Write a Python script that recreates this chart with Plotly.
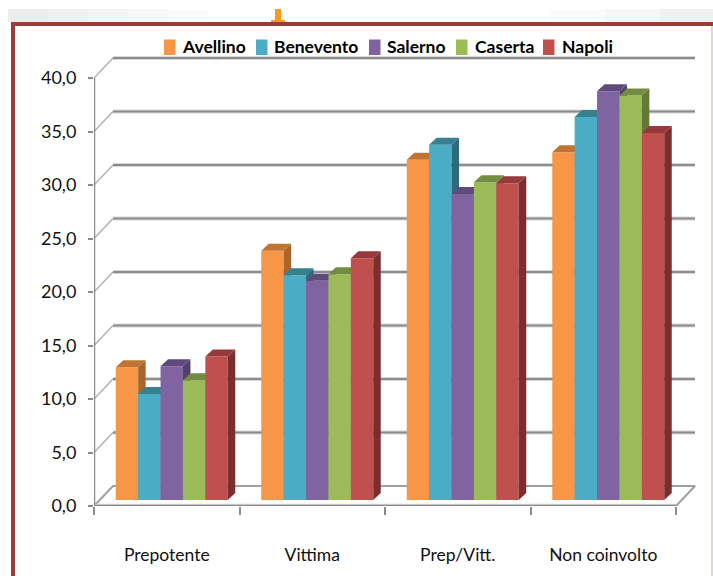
import plotly.graph_objects as go

categories = ["Prepotente", "Vittima", "Prep/Vitt.", "Non coinvolto"]
series_names = ["Avellino", "Benevento", "Salerno", "Caserta", "Napoli"]
avellino = [12.4, 23.3, 31.8, 32.5]
benevento = [9.9, 21.0, 33.2, 35.8]
salerno = [12.5, 20.5, 28.6, 38.2]
caserta = [11.2, 21.1, 29.7, 37.8]
napoli = [13.4, 22.6, 29.6, 34.3]
series_values = [avellino, benevento, salerno, caserta, napoli]
y_ticks = [0, 5, 10, 15, 20, 25, 30, 35, 40]
y_tick_labels = ["0,0", "5,0", "10,0", "15,0", "20,0", "25,0", "30,0", "35,0", "40,0"]

front_colors = ["#F79646", "#4BACC6", "#8064A2", "#9BBB59", "#C0504D"]
top_colors = ["#C07432", "#36808F", "#5F4A7C", "#738C42", "#96393A"]
side_colors = ["#A9652A", "#2E6A7C", "#523F6C", "#637939", "#7A2F2E"]
legend_swatch_px = [164, 256, 369, 456, 543]
legend_text_px = [181, 273, 386, 474, 561]

W, H = 713, 576
L, R, T, B = 94, 700, 40, 506          # plot box in page pixels
PX_X = 145.5                            # pixels per category
PX_Y = 10.7                             # pixels per value unit
x_range = [0, (R - L) / PX_X]
y_range = [0, (B - T) / PX_Y]
wall_dx, wall_dy = 19 / PX_X, 20 / PX_Y  # back-wall offset
wall_right = (695 - L) / PX_X
bar_shift_x, bar_shift_y = 5 / PX_X, 6 / PX_Y
depth_dx, depth_dy = 7.5 / PX_X, 7 / PX_Y
bar_w = 22.4 / PX_X


def px(x):
    return (x - L) / (R - L)


def py(y):
    return (B - y) / (B - T)


FONT = "Lato, sans-serif"
fig = go.Figure()

# wall grid, drawn on the base axes
for v in y_ticks[1:]:
    fig.add_trace(go.Scatter(x=[0, wall_dx], y=[v, v + wall_dy], mode="lines",
                             line=dict(color="#B0B0B0", width=1.5), showlegend=False, hoverinfo="skip", cliponaxis=False))
    fig.add_trace(go.Scatter(x=[wall_dx, wall_right], y=[v + wall_dy, v + wall_dy], mode="lines",
                             line=dict(color="#D8D8D8", width=4), showlegend=False, hoverinfo="skip", cliponaxis=False))
    fig.add_trace(go.Scatter(x=[wall_dx, wall_right], y=[v + wall_dy, v + wall_dy], mode="lines",
                             line=dict(color="#8C8C8C", width=2), showlegend=False, hoverinfo="skip", cliponaxis=False))
# floor
fig.add_trace(go.Scatter(x=[0, wall_dx, wall_right, len(categories)],
                         y=[0, wall_dy, wall_dy, 0], mode="lines",
                         line=dict(color="#A0A0A0", width=2), showlegend=False, hoverinfo="skip", cliponaxis=False))
# front axes
fig.add_trace(go.Scatter(x=[0, len(categories)], y=[0, 0], mode="lines",
                         line=dict(color="#DADADA", width=4.5), showlegend=False, hoverinfo="skip", cliponaxis=False))
fig.add_trace(go.Scatter(x=[0, 0, len(categories)], y=[y_ticks[-1], 0, 0], mode="lines",
                         line=dict(color="#8A8A8A", width=2.5), showlegend=False, hoverinfo="skip", cliponaxis=False))

# each series sits on its own overlaid axes so that later bars hide earlier depth faces
for i, (name, vals) in enumerate(zip(series_names, series_values)):
    n = i + 2
    xa, ya = f"x{n}", f"y{n}"
    xs = [c + 0.5 + bar_shift_x + (i - 2) * bar_w for c in range(len(categories))]
    fig.add_trace(go.Bar(x=xs, y=vals, base=bar_shift_y, width=bar_w, name=name, xaxis=xa, yaxis=ya,
                         marker=dict(color=front_colors[i], line=dict(width=0)), showlegend=False,
                         hovertemplate=name + ": %{y:.1f}<extra></extra>"))
    for xc, v in zip(xs, vals):
        x0, x1 = xc - bar_w / 2, xc + bar_w / 2
        y0, y1 = bar_shift_y, bar_shift_y + v
        fig.add_trace(go.Scatter(x=[x1, x1, x1 + depth_dx, x1 + depth_dx, x1], y=[y0, y1, y1 + depth_dy, y0 + depth_dy, y0],
                                 mode="lines", fill="toself", fillcolor=side_colors[i], line=dict(width=0),
                                 xaxis=xa, yaxis=ya, showlegend=False, hoverinfo="skip", cliponaxis=False))
        fig.add_trace(go.Scatter(x=[x0, x1, x1 + depth_dx, x0 + depth_dx, x0], y=[y1, y1, y1 + depth_dy, y1 + depth_dy, y1],
                                 mode="lines", fill="toself", fillcolor=top_colors[i], line=dict(width=0),
                                 xaxis=xa, yaxis=ya, showlegend=False, hoverinfo="skip", cliponaxis=False))

layout = dict(
    width=W, height=H, autosize=False,
    margin=dict(l=L, r=W - R, t=T, b=H - B, pad=0),
    paper_bgcolor="white", plot_bgcolor="rgba(0,0,0,0)",
    barmode="overlay", showlegend=False,
    font=dict(family=FONT, color="#111111"),
    xaxis=dict(range=x_range, showgrid=False, zeroline=False, showline=False,
               tickmode="array", tickvals=[c + 0.5 for c in range(len(categories))], ticktext=categories,
               ticks="", tickfont=dict(size=17.5, family=FONT), ticklabelstandoff=36,
               minor=dict(tickmode="array", tickvals=list(range(len(categories) + 1)), ticks="outside",
                          ticklen=8, tickcolor="#8A8A8A", tickwidth=2, showgrid=False)),
    yaxis=dict(range=y_range, showgrid=False, zeroline=False, showline=False,
               tickmode="array", tickvals=y_ticks, ticktext=y_tick_labels, ticks="outside", ticklen=5,
               tickcolor="#8A8A8A", tickwidth=2, tickfont=dict(size=18, family=FONT), ticklabelstandoff=8),
)
for n in range(2, 7):
    layout[f"xaxis{n}"] = dict(range=x_range, overlaying="x", visible=False, fixedrange=True)
    layout[f"yaxis{n}"] = dict(range=y_range, overlaying="y", visible=False, fixedrange=True)

shapes = []
# faded grey strip above the frame
for k, c in enumerate(["#ECECEC", "#F0F0F0", "#F4F4F4", "#F8F8F8", "#FBFBFB"]):
    shapes.append(dict(type="rect", xref="paper", yref="paper", x0=px(8 + 40 * k), x1=px(48 + 40 * k), y0=py(22), y1=py(9),
                       fillcolor=c, line=dict(width=0), layer="below"))
for k, c in enumerate(["#FBFBFB", "#F6F6F6", "#F0F0F0"]):
    shapes.append(dict(type="rect", xref="paper", yref="paper", x0=px(550 + 55 * k), x1=px(605 + 55 * k), y0=py(22), y1=py(9),
                       fillcolor=c, line=dict(width=0), layer="below"))
# small orange connector above the frame
shapes.append(dict(type="rect", xref="paper", yref="paper", x0=px(275), x1=px(281), y0=py(21), y1=py(9),
                   fillcolor="#F79A1E", line=dict(width=0)))
shapes.append(dict(type="rect", xref="paper", yref="paper", x0=px(271), x1=px(285), y0=py(22), y1=py(20),
                   fillcolor="#F79A1E", line=dict(width=0)))
# frame
shapes.append(dict(type="rect", xref="paper", yref="paper", x0=px(11), x1=px(713), y0=py(26), y1=py(22),
                   fillcolor="#9C3B37", line=dict(width=0)))
shapes.append(dict(type="rect", xref="paper", yref="paper", x0=px(11), x1=px(15), y0=py(576), y1=py(22),
                   fillcolor="#9C3B37", line=dict(width=0)))
shapes.append(dict(type="rect", xref="paper", yref="paper", x0=px(711), x1=px(713), y0=py(576), y1=py(26),
                   fillcolor="#E4D6D6", line=dict(width=0)))

# legend row: swatches and labels placed as in the reference
annotations = []
for name, color, sx, tx in zip(series_names, front_colors, legend_swatch_px, legend_text_px):
    shapes.append(dict(type="rect", xref="paper", yref="paper", x0=px(sx), x1=px(sx + 11.5), y0=py(55), y1=py(39.5),
                       fillcolor=color, line=dict(width=0)))
    annotations.append(dict(text=name, xref="paper", yref="paper", x=px(tx), y=py(47), xanchor="left", yanchor="middle",
                            showarrow=False, xshift=0, borderpad=0,
                            font=dict(size=17.5, family=FONT, weight=700, color="#000000")))
layout["shapes"] = shapes
layout["annotations"] = annotations
fig.update_layout(**layout)

fig.write_html("out.html", config=dict(displayModeBar=False),
               post_script="document.body.style.margin='0';document.body.style.overflow='hidden';")
